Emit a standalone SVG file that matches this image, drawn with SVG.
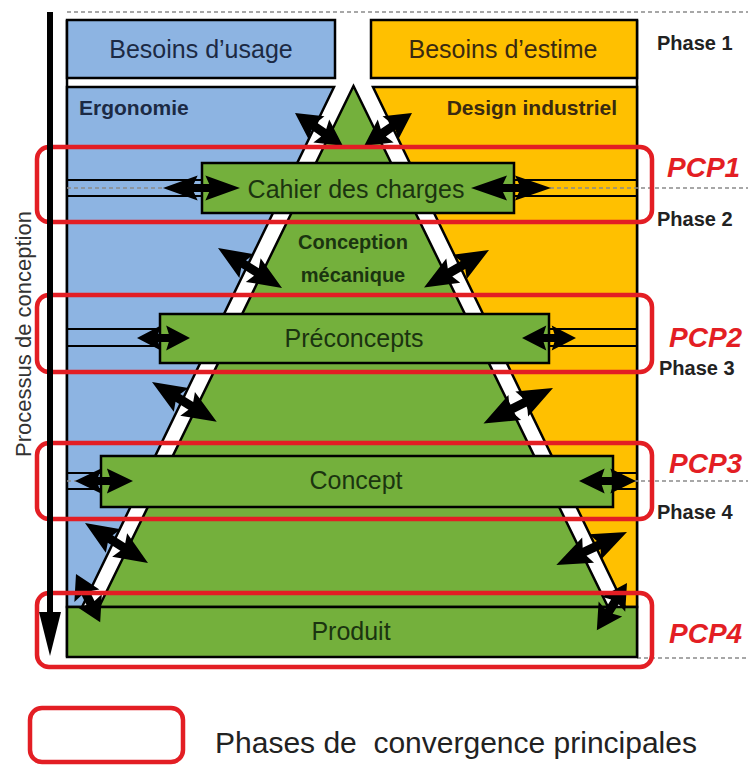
<svg xmlns="http://www.w3.org/2000/svg" width="748" height="768" viewBox="0 0 748 768">
<style>
.bl{fill:#8db4e2;stroke:#000;stroke-width:2.5}
.or{fill:#ffc000;stroke:#000;stroke-width:2.5}
.gr{fill:#74b03c;stroke:#000;stroke-width:2.5}
.ch{stroke:#000;stroke-width:2;fill:none}
.dash{stroke:#8a8a8a;stroke-width:1.5;stroke-dasharray:4 3;fill:none}
.pcp{fill:none;stroke:#e31e24;stroke-width:4.5}
.t{font-family:"Liberation Sans",Arial,sans-serif}
.big{font-size:25px;fill:#1c2a44}
.bigo{font-size:25px;fill:#3a2a10}
.hdr{font-size:21px;font-weight:bold;fill:#1c2a44}
.hdro{font-size:21px;font-weight:bold;fill:#3a2a10}
.box{font-size:25px;fill:#1b3410;text-anchor:middle}
.mec{font-size:20px;font-weight:bold;fill:#1b3410;text-anchor:middle}
.ph{font-size:20px;font-weight:bold;fill:#222}
.pc{font-size:28px;font-weight:bold;font-style:italic;fill:#e31e24}
.arr{fill:#000}
</style>
<defs>
<path id="dbl" d="M0,0 L0.45,-14 L0.40,-4.5 L0.60,-4.5 L0.55,-14 L1,0 L0.55,14 L0.60,4.5 L0.40,4.5 L0.45,14 Z"/>
</defs>

<g id="guides">
<line class="dash" x1="67" y1="12" x2="748" y2="12"/>
<line class="dash" x1="637" y1="658" x2="748" y2="658"/>
</g>

<g id="frame">
<line x1="67" y1="20" x2="67" y2="657" stroke="#000" stroke-width="2.5"/>
<line x1="637" y1="20" x2="637" y2="657" stroke="#000" stroke-width="2.5"/>
</g>

<g id="besoins-usage">
<rect class="bl" x="67" y="20" width="268" height="58"/>
<text class="t big" x="201" y="58" text-anchor="middle">Besoins d’usage</text>
</g>
<g id="besoins-estime">
<rect class="or" x="371" y="20" width="266" height="58"/>
<text class="t bigo" x="503" y="58" text-anchor="middle">Besoins d’estime</text>
</g>

<g id="ergonomie">
<polygon class="bl" points="67,87 334,87 82,607 67,607"/>
<text class="t hdr" x="79" y="115">Ergonomie</text>
</g>
<g id="design-industriel">
<polygon class="or" points="373,87 637,87 637,607 625,607"/>
<text class="t hdro" x="617" y="115" text-anchor="end">Design industriel</text>
</g>

<g id="conception-mecanique">
<polygon class="gr" points="353.5,86 99,607 608,607"/>
<text class="t mec" x="353" y="249">Conception</text>
<text class="t mec" x="353" y="282">mécanique</text>
</g>

<g id="channels">
<line class="ch" x1="67" y1="180" x2="202" y2="180"/>
<line class="ch" x1="67" y1="196" x2="202" y2="196"/>
<line class="ch" x1="514" y1="180" x2="637" y2="180"/>
<line class="ch" x1="514" y1="196" x2="637" y2="196"/>
<line class="ch" x1="67" y1="329" x2="160" y2="329"/>
<line class="ch" x1="67" y1="346" x2="160" y2="346"/>
<line class="ch" x1="549" y1="329" x2="637" y2="329"/>
<line class="ch" x1="549" y1="346" x2="637" y2="346"/>
<line class="ch" x1="67" y1="473" x2="101" y2="473"/>
<line class="ch" x1="67" y1="489" x2="101" y2="489"/>
<line class="ch" x1="613" y1="473" x2="637" y2="473"/>
<line class="ch" x1="613" y1="489" x2="637" y2="489"/>
<line class="dash" x1="67" y1="188" x2="748" y2="188"/>
<line class="dash" x1="67" y1="481" x2="748" y2="481"/>
</g>

<g id="cahier-des-charges">
<rect class="gr" x="202" y="163" width="312" height="50"/>
<text class="t box" x="356" y="198">Cahier des charges</text>
</g>
<g id="preconcepts">
<rect class="gr" x="160" y="314" width="389" height="49"/>
<text class="t box" x="354" y="347">Préconcepts</text>
</g>
<g id="concept">
<rect class="gr" x="101" y="456" width="512" height="51"/>
<text class="t box" x="356" y="489">Concept</text>
</g>
<g id="produit">
<rect class="gr" x="67" y="607" width="570" height="50"/>
<text class="t box" x="351" y="640">Produit</text>
</g>

<g id="connectors">
<use href="#dbl" class="arr" transform="translate(295,113) rotate(34.5) scale(58,1)"/>
<use href="#dbl" class="arr" transform="translate(412,113) rotate(145.5) scale(58,1)"/>
<use href="#dbl" class="arr" transform="translate(218,248) rotate(32) scale(75.5,1)"/>
<use href="#dbl" class="arr" transform="translate(489,250) rotate(150) scale(75,1)"/>
<use href="#dbl" class="arr" transform="translate(152,382) rotate(31.6) scale(76,1)"/>
<use href="#dbl" class="arr" transform="translate(553,388) rotate(153) scale(78,1)"/>
<use href="#dbl" class="arr" transform="translate(85,523) rotate(32.4) scale(74.6,1)"/>
<use href="#dbl" class="arr" transform="translate(627,532) rotate(155) scale(78,1)"/>
<use href="#dbl" class="arr" transform="translate(76,574) rotate(63.4) scale(54,1)"/>
<use href="#dbl" class="arr" transform="translate(627,583) rotate(122.6) scale(56,1)"/>
<use href="#dbl" class="arr" transform="translate(163,188) scale(77,0.9)"/>
<use href="#dbl" class="arr" transform="translate(471,188) scale(80,0.9)"/>
<use href="#dbl" class="arr" transform="translate(137,338) scale(53,0.9)"/>
<use href="#dbl" class="arr" transform="translate(522,338) scale(54,0.9)"/>
<use href="#dbl" class="arr" transform="translate(75,481) scale(58,0.9)"/>
<use href="#dbl" class="arr" transform="translate(579,481) scale(57,0.9)"/>
</g>

<g id="pcp-frames">
<rect class="pcp" x="37" y="147" width="615" height="75" rx="12"/>
<rect class="pcp" x="37" y="295" width="615" height="77" rx="12"/>
<rect class="pcp" x="37" y="443" width="615" height="76" rx="12"/>
<rect class="pcp" x="37" y="593" width="615" height="74" rx="12"/>
</g>

<g id="processus">
<line x1="50" y1="12" x2="50" y2="616" stroke="#000" stroke-width="6"/>
<polygon points="39,612 61,612 50,656" fill="#000"/>
<text class="t" transform="translate(31,334) rotate(-90)" text-anchor="middle" font-size="22" fill="#333">Processus de conception</text>
</g>

<g id="phases">
<text class="t ph" x="657" y="50">Phase 1</text>
<text class="t ph" x="657" y="226">Phase 2</text>
<text class="t ph" x="659" y="375">Phase 3</text>
<text class="t ph" x="657" y="519">Phase 4</text>
<text class="t pc" x="667" y="177">PCP1</text>
<text class="t pc" x="669" y="347">PCP2</text>
<text class="t pc" x="669" y="473">PCP3</text>
<text class="t pc" x="669" y="643">PCP4</text>
</g>

<g id="legend">
<rect class="pcp" x="30" y="708" width="153" height="54" rx="12"/>
<text class="t" x="215" y="753" font-size="30" fill="#222" style="white-space:pre">Phases de  convergence principales</text>
</g>
</svg>
